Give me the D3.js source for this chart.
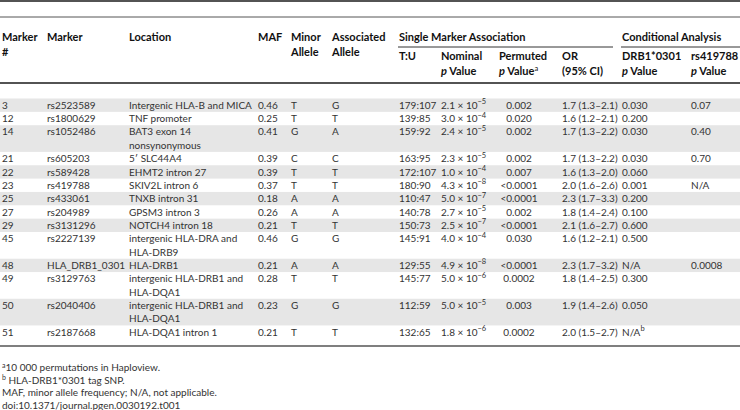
<!DOCTYPE html>
<html>
<head>
<meta charset="utf-8">
<script src="https://cdn.jsdelivr.net/npm/d3@7"></script>
<style>
  html, body { margin: 0; padding: 0; background: #fff; }
  svg { display: block; }
  text { font-family: Lato, "Noto Sans", sans-serif; }
</style>
</head>
<body>
<svg id="chart" width="740" height="410"></svg>
<script>
// ---------- data ----------
const markerNums = ["3","12","14","21","22","23","25","27","29","45","48","49","50","51"];
const markers = ["rs2523589","rs1800629","rs1052486","rs605203","rs589428","rs419788","rs433061",
  "rs204989","rs3131296","rs2227139","HLA_DRB1_0301","rs3129763","rs2040406","rs2187668"];
const locations = [
  ["Intergenic HLA-B and MICA"], ["TNF promoter"], ["BAT3 exon 14","nonsynonymous"],
  ["5\u2032 SLC44A4"], ["EHMT2 intron 27"], ["SKIV2L intron 6"], ["TNXB intron 31"],
  ["GPSM3 intron 3"], ["NOTCH4 intron 18"], ["intergenic HLA-DRA and","HLA-DRB9"],
  ["HLA-DRB1"], ["intergenic HLA-DRB1 and","HLA-DQA1"], ["intergenic HLA-DRB1 and","HLA-DQA1"],
  ["HLA-DQA1 intron 1"]];
const mafs = [0.46,0.25,0.41,0.39,0.39,0.37,0.18,0.26,0.21,0.46,0.21,0.28,0.23,0.21];
const minorAlleles = ["T","T","G","C","T","T","A","A","T","G","A","T","G","T"];
const assocAlleles = ["G","T","A","C","T","T","A","A","T","G","A","T","G","T"];
const tu = ["179:107","139:85","159:92","163:95","172:107","180:90","110:47","140:78","150:73",
  "145:91","129:55","145:77","112:59","132:65"];
const nominalMantissa = ["2.1","3.0","2.4","2.3","1.0","4.3","5.0","2.7","2.5","4.0","4.9","5.0","5.0","1.8"];
const nominalExponent = [-5,-4,-5,-5,-4,-8,-7,-5,-7,-4,-8,-6,-5,-6];
const permuted = ["0.002","0.020","0.002","0.002","0.007","<0.0001","<0.0001","0.002","<0.0001",
  "0.030","<0.0001","0.0002","0.003","0.0002"];
const oddsRatios = ["1.7 (1.3\u20132.1)","1.6 (1.2\u20132.1)","1.7 (1.3\u20132.2)","1.7 (1.3\u20132.2)",
  "1.6 (1.3\u20132.0)","2.0 (1.6\u20132.6)","2.3 (1.7\u20133.3)","1.8 (1.4\u20132.4)","2.1 (1.6\u20132.7)",
  "1.6 (1.2\u20132.1)","2.3 (1.7\u20133.2)","1.8 (1.4\u20132.5)","1.9 (1.4\u20132.6)","2.0 (1.5\u20132.7)"];
const drb1P = ["0.030","0.200","0.030","0.030","0.060","0.001","0.200","0.100","0.600","0.500",
  "N/A","0.300","0.050","N/A|b"];
const rs419788P = ["0.07","","0.40","0.70","","N/A","","","","","0.0008","","",""];
const footnotes = [["a","10 000 permutations in Haploview."],["b"," HLA-DRB1*0301 tag SNP."],
  ["","MAF, minor allele frequency; N/A, not applicable."],["","doi:10.1371/journal.pgen.0030192.t001"]];

// ---------- layout ----------
const svg = d3.select("#chart");
const W = 740;
const fs = 11;      // header size
const bfs = 10;     // body size
const bodyColor = "#333";
const colX = d3.scaleOrdinal()
  .domain(["num","marker","loc","maf","minor","assoc","tu","nom","perm","or","drb","rs"])
  .range([2, 47, 129, 258, 291, 332, 399, 441, 519, 562, 622, 691]);

// row-line index for each record
const lineCounts = locations.map(l => l.length);
const startLine = [];
lineCounts.reduce((acc, c, i) => { startLine[i] = acc; return acc + c; }, 0);
const totalLines = d3.sum(lineCounts);
const yLine = d3.scaleLinear().domain([0, totalLines]).range([98.5, 98.5 + totalLines * 13.35]);

// shading bands
const rows = markerNums.map((n, i) => ({i, n}));
svg.append("g").selectAll("rect").data(rows.filter(d => d.i % 2 === 0)).join("rect")
  .attr("x", 0).attr("width", W)
  .attr("y", d => yLine(startLine[d.i]))
  .attr("height", d => yLine(startLine[d.i] + lineCounts[d.i]) - yLine(startLine[d.i]))
  .attr("fill", "#e6e6e6");

// rules
const rules = [
  {y: 1, x1: 0, x2: W, c: "#1a1a1a", w: 1.6},
  {y: 17, x1: 0, x2: W, c: "#555", w: 1},
  {y: 47, x1: 398, x2: 613, c: "#333", w: 1},
  {y: 47, x1: 621, x2: W, c: "#333", w: 1},
  {y: 83, x1: 0, x2: W, c: "#1a1a1a", w: 1.4},
  {y: 346, x1: 0, x2: W, c: "#555", w: 1.6}
];
svg.append("g").selectAll("line").data(rules).join("line")
  .attr("x1", d => d.x1).attr("x2", d => d.x2)
  .attr("y1", d => d.y).attr("y2", d => d.y)
  .attr("stroke", d => d.c).attr("stroke-width", d => d.w);

// header
const hdr = svg.append("g").attr("font-weight", "bold").attr("font-size", fs).attr("fill", "#111");
const hdrTop = 41, hdrSub = 60;
const headers = [
  {k: "num", lines: ["Marker", "#"], y: hdrTop},
  {k: "marker", lines: ["Marker"], y: hdrTop},
  {k: "loc", lines: ["Location"], y: hdrTop},
  {k: "maf", lines: ["MAF"], y: hdrTop},
  {k: "minor", lines: ["Minor", "Allele"], y: hdrTop},
  {k: "assoc", lines: ["Associated", "Allele"], y: hdrTop},
  {k: "tu", lines: ["Single Marker Association"], y: hdrTop},
  {k: "drb", lines: ["Conditional Analysis"], y: hdrTop},
  {k: "tu", lines: ["T:U"], y: hdrSub},
  {k: "nom", lines: ["Nominal", "|p| Value"], y: hdrSub},
  {k: "perm", lines: ["Permuted", "|p| Value^a"], y: hdrSub, dx: -20},
  {k: "or", lines: ["OR", "(95% CI)"], y: hdrSub},
  {k: "drb", lines: ["DRB1*0301", "|p| Value"], y: hdrSub},
  {k: "rs", lines: ["rs419788", "|p| Value"], y: hdrSub}
];
headers.forEach(h => {
  h.lines.forEach((ln, j) => {
    const t = hdr.append("text")
      .attr("x", colX(h.k) + (h.dx || 0))
      .attr("y", h.y + j * 15);
    let s = ln, sup = null;
    if (s.includes("^")) { [s, sup] = s.split("^"); }
    if (s.startsWith("|p|")) {
      t.append("tspan").attr("font-style", "italic").text("p");
      t.append("tspan").text(s.slice(3));
    } else {
      t.append("tspan").text(s);
    }
    if (sup) t.append("tspan").attr("dy", -4).attr("font-size", 7.5).attr("font-weight", "normal").text(sup);
  });
});

// body
const body = svg.append("g").attr("font-size", bfs).attr("fill", bodyColor);
const baseline = i => yLine(startLine[i] + 0.5) + 3.6;

function simpleCol(key, arr, anchor) {
  body.append("g").selectAll("text").data(arr.map((v, i) => ({v, i}))).join("text")
    .attr("x", colX(key)).attr("y", d => baseline(d.i))
    .attr("text-anchor", anchor || "start")
    .text(d => d.v);
}
simpleCol("num", markerNums);
simpleCol("marker", markers);
simpleCol("maf", mafs.map(d3.format(".2f")));
simpleCol("minor", minorAlleles);
simpleCol("assoc", assocAlleles);
simpleCol("tu", tu);
simpleCol("perm", permuted, "middle");
simpleCol("or", oddsRatios);
simpleCol("rs", rs419788P);

// location (possibly two lines)
body.append("g").selectAll("text")
  .data(locations.flatMap((ls, i) => ls.map((s, j) => ({s, line: startLine[i] + j}))))
  .join("text")
  .attr("x", colX("loc"))
  .attr("y", d => yLine(d.line + 0.5) + 3.6)
  .text(d => d.s);

// nominal p with superscript exponent
body.append("g").selectAll("text").data(nominalMantissa.map((m, i) => ({m, e: nominalExponent[i], i})))
  .join("text")
  .attr("x", colX("nom")).attr("y", d => baseline(d.i))
  .each(function(d) {
    const t = d3.select(this);
    t.append("tspan").text(d.m + " \u00d7 10");
    t.append("tspan").attr("dy", -4.5).attr("font-size", 7.5).text("\u2212" + Math.abs(d.e));
  });

// DRB1 p with possible footnote marker
body.append("g").selectAll("text").data(drb1P.map((v, i) => ({v, i}))).join("text")
  .attr("x", colX("drb")).attr("y", d => baseline(d.i))
  .each(function(d) {
    const t = d3.select(this);
    const [s, sup] = d.v.split("|");
    t.append("tspan").text(s);
    if (sup) t.append("tspan").attr("dy", -4.5).attr("font-size", 7.5).text(sup);
  });

// footnotes
const foot = svg.append("g").attr("font-size", 10).attr("fill", bodyColor);
foot.selectAll("text").data(footnotes).join("text")
  .attr("x", 2)
  .attr("y", (d, i) => 371 + i * 12.5)
  .each(function(d) {
    const t = d3.select(this);
    if (d[0]) t.append("tspan").attr("font-size", 7).attr("dy", -3.5).text(d[0]);
    t.append("tspan").attr("dy", d[0] ? 3.5 : 0).text(d[1]);
  });
</script>
</body>
</html>
